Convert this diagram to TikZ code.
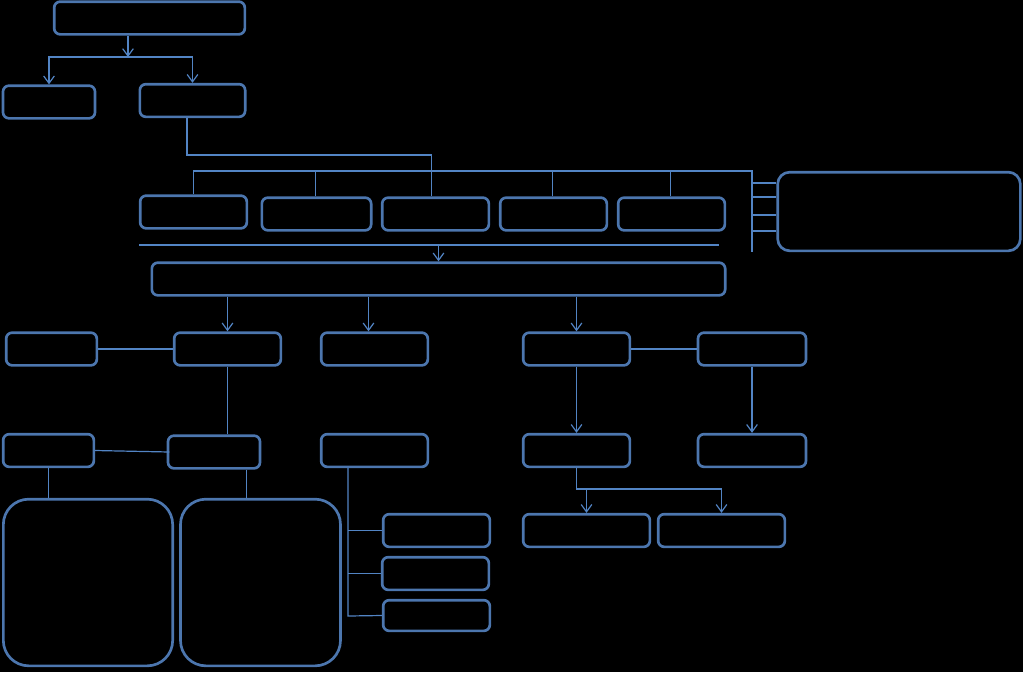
\documentclass[tikz,border=0pt]{standalone}
\usepackage{tikz}
\usetikzlibrary{arrows.meta, positioning, calc}
\usepackage{xcolor}
\definecolor{boxblue}{RGB}{76,118,174}
\definecolor{lineblue}{RGB}{82,132,196}
\tikzset{
  box/.style   = {draw=boxblue, line width=2pt, rounded corners=4.5pt,
                  minimum height=24.5pt, inner sep=0pt},
  bigbox/.style = {draw=boxblue, line width=2pt, rounded corners=19pt, inner sep=0pt},
  link/.style  = {draw=lineblue, line width=0.9pt},
  arrow/.style = {link, -{Straight Barb[length=5.5pt, width=8pt]}},
}
\begin{document}
\begin{tikzpicture}[x=0.75pt, y=-0.75pt]
  \fill[black] (0,0) rectangle (1023,672);
  % top level
  \node[box, minimum width=143pt] (root) at (149.5,18) {};
  \node[box, minimum width=69pt] (left) at (49,102) {};
  \node[box, minimum width=79pt] (right) at (192.5,100.5) {};
  % second row
  \node[box, minimum width=80pt] (r1) at (193.5,212) {};
  \node[box, minimum width=82pt] (r2) at (316.5,214) {};
  \node[box, minimum width=80pt] (r3) at (435.5,214) {};
  \node[box, minimum width=80pt] (r4) at (553.5,214) {};
  \node[box, minimum width=80pt] (r5) at (671.5,214) {};
  \node[box, rounded corners=9pt, minimum width=182pt, minimum height=59pt] (side) at (899,211.5) {};
  \node[box, minimum width=430pt] (wide) at (438.5,279) {};
  % third row
  \node[box, minimum width=68pt] (L1) at (51.5,349) {};
  \node[box, minimum width=80pt] (L2) at (227.5,349) {};
  \node[box, minimum width=80pt] (L3) at (374.5,349) {};
  \node[box, minimum width=80pt] (R1) at (576.5,349) {};
  \node[box, minimum width=81pt] (R2) at (752,349) {};
  % fourth row
  \node[box, minimum width=68pt] (M1) at (48.5,450.5) {};
  \node[box, minimum width=69pt] (M2) at (214,452) {};
  \node[box, minimum width=80pt] (M3) at (374.5,450.5) {};
  \node[box, minimum width=80pt] (R3) at (576.5,450.5) {};
  \node[box, minimum width=81pt] (R4) at (752,450.5) {};
  % bottom row
  \node[bigbox, minimum width=127pt, minimum height=125pt] (big1) at (88,582.5) {};
  \node[bigbox, minimum width=120pt, minimum height=125pt] (big2) at (260.5,582.5) {};
  \node[box, minimum width=80pt] (S1) at (436.5,530.5) {};
  \node[box, minimum width=80pt] (S2) at (435.5,573.5) {};
  \node[box, minimum width=80pt, minimum height=23pt] (S3) at (436.5,615.5) {};
  \node[box, minimum width=95pt] (T1) at (586.5,530.5) {};
  \node[box, minimum width=95pt] (T2) at (721.5,530.5) {};

  % junction points
  \coordinate (split) at (128,57);
  \coordinate (elbow) at (187,155);
  \coordinate (bus) at (752,171);
  \coordinate (busend) at (752,252);
  \coordinate (barL) at (139,245);
  \coordinate (barR) at (719,245);
  \coordinate (fork) at (348,616);
  \coordinate (tj) at (576,489);

  % top split
  \draw[arrow] (root.south -| split) -- (split);
  \draw[arrow] (split) -| (left.north);
  \draw[arrow] (split) -| (right.north);
  % to second row
  \draw[link] (right.south -| elbow) -- (elbow) -| ([xshift=-3pt]r3.north);
  \draw[link] (r1.north) |- (bus) -- (busend);
  \foreach \n in {r2, r4, r5}
    \draw[link] ([xshift=-1pt]\n.north) -- ([xshift=-1pt]\n.north |- bus);
  \foreach \y in {183, 197, 215, 231}
    \draw[link] (bus |- 0,\y) -- (side.west |- 0,\y);
  % bar and wide box
  \draw[link] (barL) -- (barR);
  \draw[arrow] (wide.north |- barL) -- (wide.north);
  \draw[arrow] (wide.south -| L2.north) -- (L2.north);
  \draw[arrow] ([xshift=-4.5pt]wide.south -| L3.north) -- ([xshift=-4.5pt]L3.north);
  \draw[arrow] (wide.south -| R1.north) -- (R1.north);
  % third row links
  \draw[link] (L1.east) -- (L2.west);
  \draw[link] (R1.east) -- (R2.west);
  \draw[link] (L2.south) -- (L2.south |- M2.north);
  \draw[arrow] (R1.south) -- (R3.north);
  \draw[arrow] (R2.south) -- (R4.north);
  % fourth row links
  \draw[link] (M1.east) -- ([xshift=2pt]M2.west);
  \draw[link] (M1.south) -- (M1.south |- big1.north);
  \draw[link] ([xshift=-11.25pt]M2.south east) -- ([xshift=-11.25pt]M2.south east |- big2.north);
  \draw[link] (M3.south -| fork) -- (fork) -- (S3.west);
  \draw[link] (S1.west) -- (S1.west -| fork);
  \draw[link] (S2.west) -- (S2.west -| fork);
  \draw[arrow] (R3.south) |- (T2.north |- tj) -- (T2.north);
  \draw[arrow] (T1.north |- tj) -- (T1.north);
\end{tikzpicture}
\end{document}
